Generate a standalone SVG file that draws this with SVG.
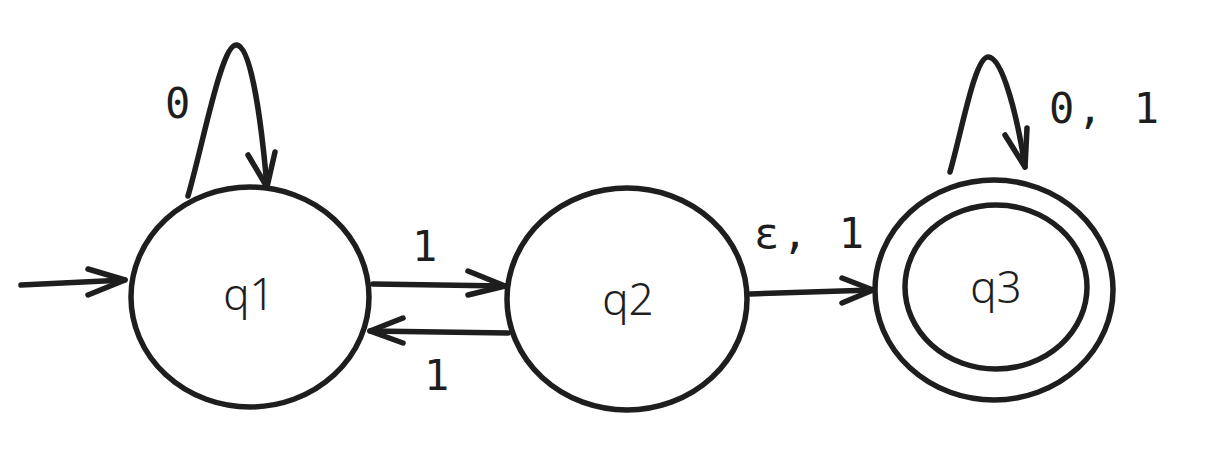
<svg xmlns="http://www.w3.org/2000/svg" width="1207" height="462" viewBox="0 0 1207 462">
<style>
.st{fill:none;stroke:#1e1e1e;stroke-width:5.5;stroke-linecap:round;stroke-linejoin:round}
.nd{fill:#ffffff;stroke:#1e1e1e;stroke-width:5.5}
.nl{font-family:"Noto Sans","Open Sans",sans-serif;font-size:44px;font-weight:300;fill:#1e1e1e;text-anchor:middle}
.el{font-family:"DejaVu Sans Mono","Liberation Mono",monospace;font-size:42px;fill:#1e1e1e;letter-spacing:3px}
</style>
<rect width="1207" height="462" fill="#ffffff"/>
<g id="q1">
<ellipse class="nd" cx="250" cy="297" rx="119" ry="110"/>
<text class="nl" x="249" y="310">q1</text>
</g>
<g id="q2">
<ellipse class="nd" cx="627" cy="299" rx="120" ry="111"/>
<text class="nl" x="628" y="315">q2</text>
</g>
<g id="q3">
<ellipse class="nd" cx="994" cy="290" rx="119" ry="110"/>
<ellipse class="nd" cx="996" cy="287" rx="91" ry="82"/>
<text class="nl" x="996" y="303">q3</text>
</g>
<g id="connectors">
<path class="st" d="M21,285 L125,280"/>
<path class="st" d="M88,269 L125,280 L88,295"/>
<path class="st" d="M188,196 C204,140 222,42 237,45 C253,48 263,140 267,187"/>
<path class="st" d="M248,155 L267,187 L275,152"/>
<path class="st" d="M373,284 L505,286"/>
<path class="st" d="M468,271 L505,286 L468,295"/>
<path class="st" d="M508,333 L370,331"/>
<path class="st" d="M403,318 L370,331 L403,343"/>
<path class="st" d="M750,294 L873,290"/>
<path class="st" d="M842,278 L873,290 L842,303"/>
<path class="st" d="M950,172 C962,130 975,57 988,57 C1003,57 1018,120 1025,167"/>
<path class="st" d="M1005,135 L1025,167 L1027,128"/>
<text class="el" x="165" y="118">0</text>
<text class="el" x="412" y="261">1</text>
<text class="el" x="424" y="390">1</text>
<text class="el" x="754" y="248">ε, 1</text>
<text class="el" x="1049" y="123">0, 1</text>
</g>
</svg>
